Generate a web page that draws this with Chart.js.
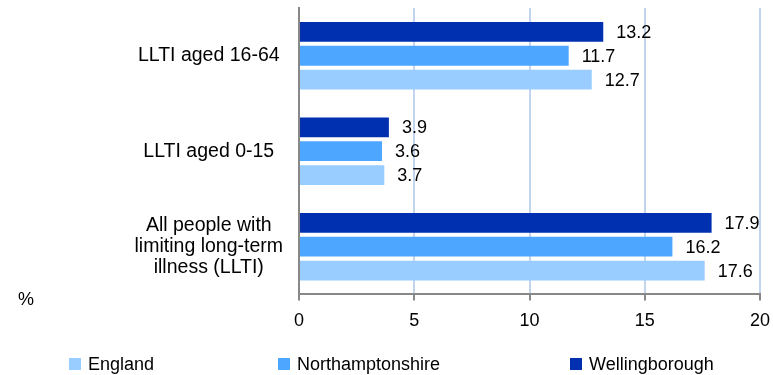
<!DOCTYPE html>
<html>
<head>
<meta charset="utf-8">
<script src="https://cdn.jsdelivr.net/npm/chart.js@4"></script>
<style>
  html, body { margin: 0; padding: 0; background: #fff; }
  #wrap { width: 773px; height: 375px; }
</style>
</head>
<body>
<div id="wrap"><canvas id="chart"></canvas></div>
<script>
// 카테고리와 값
const categories = [
    'LLTI aged 16-64',
    'LLTI aged 0-15',
    ['All people with', 'limiting long-term', 'illness (LLTI)']
];
const england = [12.7, 3.7, 17.6];
const northamptonshire = [11.7, 3.6, 16.2];
const wellingborough = [13.2, 3.9, 17.9];
const xTicks = [0, 5, 10, 15, 20];

// 범례 순서와 위치
const legendOrder = ['England', 'Northamptonshire', 'Wellingborough'];
const legendX = [69, 278, 570];

const FONT = "'Liberation Sans', Arial, sans-serif";

// 막대 끝에 값 표시 + 범례
const valueLabels = {
    id: 'valueLabels',
    afterDatasetsDraw(chart) {
        const ctx = chart.ctx;
        ctx.save();
        ctx.font = '18px ' + FONT;
        ctx.fillStyle = '#000';
        ctx.textAlign = 'left';
        ctx.textBaseline = 'middle';
        chart.data.datasets.forEach((ds, i) => {
            chart.getDatasetMeta(i).data.forEach((bar, j) => {
                ctx.fillText(ds.data[j].toFixed(1), bar.x + 13, bar.y + 1);
            });
        });
        // % 단위 표시
        const area = chart.chartArea;
        ctx.fillText('%', 18, area.bottom + 6);

        // 범례
        const ly = chart.height - 11;
        legendOrder.forEach((name, k) => {
            const ds = chart.data.datasets.find(d => d.label === name);
            ctx.fillStyle = ds.backgroundColor;
            ctx.fillRect(legendX[k], ly - 6, 12, 12);
            ctx.fillStyle = '#000';
            ctx.fillText(name, legendX[k] + 19, ly + 1);
        });
        ctx.restore();
    }
};

new Chart(document.getElementById('chart'), {
    type: 'bar',
    data: {
        labels: categories,
        datasets: [
            { label: 'Wellingborough', data: wellingborough, backgroundColor: '#0030b0' },
            { label: 'Northamptonshire', data: northamptonshire, backgroundColor: '#4da6ff' },
            { label: 'England', data: england, backgroundColor: '#99ccff' }
        ]
    },
    options: {
        indexAxis: 'y',
        responsive: true,
        maintainAspectRatio: false,
        animation: false,
        categoryPercentage: 0.75,
        barPercentage: 0.83,
        layout: { padding: { top: 8, right: 13, left: 0, bottom: 33 } },
        plugins: {
            legend: { display: false },
            tooltip: { enabled: false }
        },
        scales: {
            x: {
                min: 0,
                max: 20,
                afterBuildTicks(scale) {
                    scale.ticks = xTicks.map(v => ({ value: v }));
                },
                afterFit(scale) {
                    scale.paddingLeft = 0;
                    scale.paddingRight = 0;
                },
                grid: {
                    color: ctx => ctx.index === 0 ? 'rgba(0,0,0,0)' : '#c3d5ec',
                    lineWidth: 2,
                    tickColor: '#888',
                    tickLength: 6,
                    tickWidth: 2
                },
                border: { color: '#888', width: 2 },
                ticks: {
                    color: '#000',
                    padding: 10,
                    maxRotation: 0,
                    font: { family: FONT, size: 18 }
                }
            },
            y: {
                afterFit(scale) {
                    scale.width = 299;
                    scale.paddingTop = 0;
                    scale.paddingBottom = 0;
                },
                grid: { display: false, drawTicks: false },
                border: { display: true, color: '#888', width: 2 },
                ticks: {
                    color: '#000',
                    padding: 16,
                    autoSkip: false,
                    crossAlign: 'center',
                    font: { family: FONT, size: 19.5, lineHeight: 1.1 }
                }
            }
        }
    },
    plugins: [valueLabels]
});
</script>
</body>
</html>
